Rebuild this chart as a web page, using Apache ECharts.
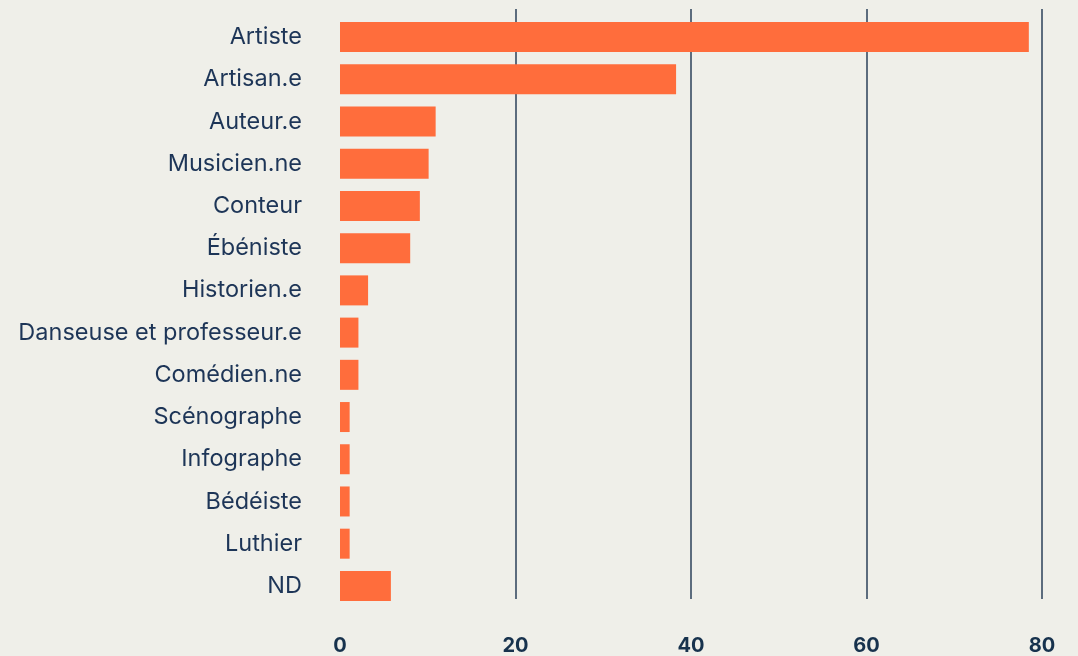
<!DOCTYPE html>
<html>
<head>
<meta charset="utf-8">
<script src="https://cdn.jsdelivr.net/npm/echarts@6/dist/echarts.min.js"></script>
<style>
html,body{margin:0;padding:0;background:#EFEFE9;}
#c{width:1078px;height:656px;}
</style>
</head>
<body>
<div id="c"></div>
<script>
const categories = ["Artiste","Artisan.e","Auteur.e","Musicien.ne","Conteur","Ébéniste","Historien.e","Danseuse et professeur.e","Comédien.ne","Scénographe","Infographe","Bédéiste","Luthier","ND"];
const values = [78.5, 38.3, 10.9, 10.1, 9.1, 8.0, 3.2, 2.1, 2.1, 1.1, 1.1, 1.1, 1.1, 5.8];
const xTicks = [0, 20, 40, 60, 80];

const chart = echarts.init(document.getElementById('c'));
chart.setOption({
  backgroundColor: '#EFEFE9',
  animation: false,
  grid: [
    { left: 340, right: 36, top: 16, bottom: 49 },
    { left: 340, right: 36, top: 9, bottom: 55 }
  ],
  xAxis: [
    { gridIndex: 0, type: 'value', min: 0, max: 80, interval: 20,
      axisLine: { show: false }, axisTick: { show: false },
      splitLine: { show: false }, axisLabel: { show: false } },
    { gridIndex: 1, type: 'value', min: 0, max: 80, interval: 20,
      axisLine: { show: false }, axisTick: { show: false },
      splitLine: { show: true, showMinLine: false, lineStyle: { color: '#2B4059', width: 1.5 } },
      axisLabel: {
        margin: 37, color: '#17324D', fontSize: 20, fontWeight: 'bold', fontFamily: 'Inter',
        formatter: v => xTicks.includes(v) ? String(v) : ''
      } }
  ],
  yAxis: [
    { gridIndex: 0, type: 'category', data: categories, inverse: true,
      axisLine: { show: false }, axisTick: { show: false },
      axisLabel: { margin: 38, color: '#1D3557', fontSize: 23.5, fontFamily: 'Inter' } },
    { gridIndex: 1, type: 'value', show: false }
  ],
  series: [
    { type: 'bar', xAxisIndex: 0, yAxisIndex: 0, data: values, barWidth: 30,
      itemStyle: { color: '#FF6D3C' }, z: 3 }
  ]
});
</script>
</body>
</html>
